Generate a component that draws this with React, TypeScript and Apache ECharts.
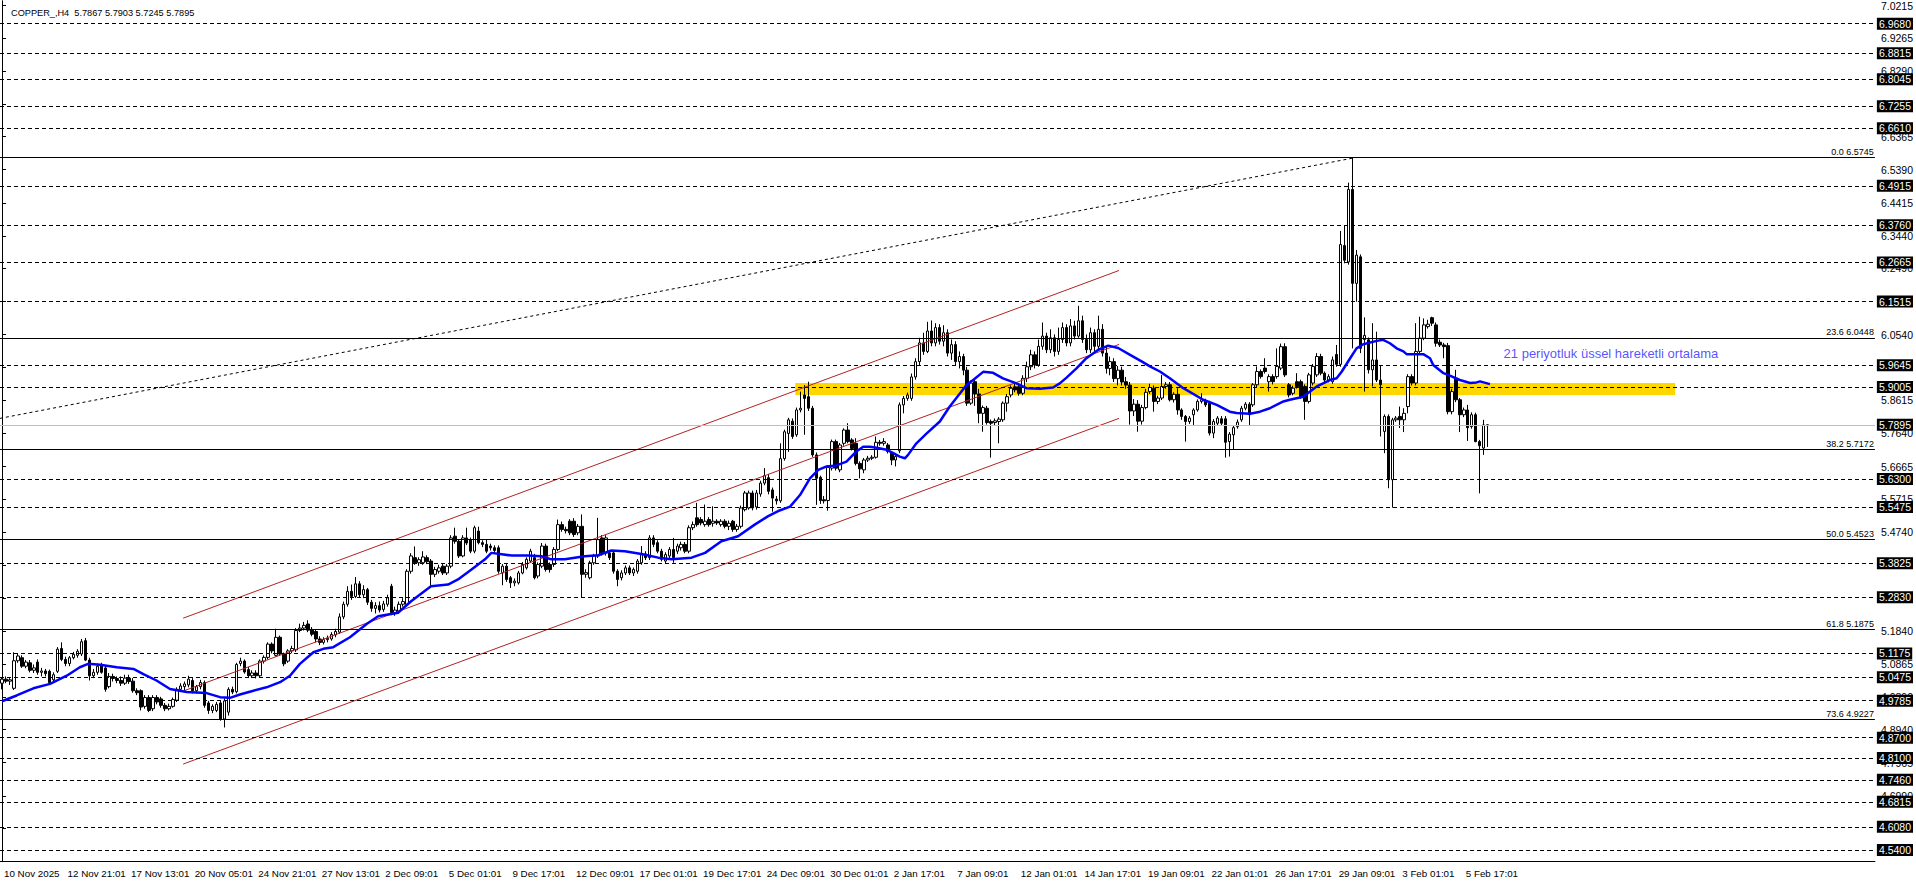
import React, { useEffect, useRef } from "react";
import * as echarts from "echarts";

const FONT = "Liberation Sans, Arial, sans-serif";
const TITLE = "COPPER_,H4\u00a0\u00a05.7867 5.7903 5.7245 5.7895";

const TIME_LABELS = [
  "10 Nov 2025", "12 Nov 21:01", "17 Nov 13:01", "20 Nov 05:01", "24 Nov 21:01", "27 Nov 13:01",
  "2 Dec 09:01", "5 Dec 01:01", "9 Dec 17:01", "12 Dec 09:01", "17 Dec 01:01", "19 Dec 17:01",
  "24 Dec 09:01", "30 Dec 01:01", "2 Jan 17:01", "7 Jan 09:01", "12 Jan 01:01", "14 Jan 17:01",
  "19 Jan 09:01", "22 Jan 01:01", "26 Jan 17:01", "29 Jan 09:01", "3 Feb 01:01", "5 Feb 17:01",
];
const BARS_PER_LABEL = 16;
const SLOT_COUNT = 472;

// H4 candles: [open, high, low, close]
const OHLC: number[][] = [
  [5.030,5.048,5.012,5.042],[5.042,5.050,5.030,5.036],[5.036,5.045,5.025,5.040],[5.015,5.121,5.010,5.096],
  [5.096,5.118,5.090,5.110],[5.105,5.112,5.075,5.080],[5.080,5.098,5.074,5.092],[5.090,5.098,5.062,5.068],
  [5.068,5.085,5.060,5.075],[5.092,5.100,5.055,5.062],[5.062,5.075,5.050,5.066],[5.066,5.072,5.050,5.058],
  [5.065,5.070,5.030,5.032],[5.040,5.062,5.035,5.055],[5.065,5.136,5.060,5.130],[5.132,5.150,5.095,5.100],
  [5.100,5.108,5.080,5.088],[5.088,5.110,5.080,5.105],[5.105,5.122,5.100,5.115],[5.112,5.130,5.105,5.124],
  [5.116,5.160,5.110,5.152],[5.155,5.163,5.095,5.098],[5.098,5.105,5.038,5.052],[5.052,5.072,5.045,5.062],
  [5.062,5.088,5.055,5.080],[5.082,5.090,5.058,5.062],[5.075,5.082,5.005,5.012],[5.020,5.060,5.015,5.050],
  [5.050,5.058,5.035,5.044],[5.044,5.050,5.030,5.038],[5.038,5.050,5.022,5.030],[5.030,5.055,5.025,5.045],
  [5.045,5.055,5.028,5.035],[5.036,5.045,5.002,5.008],[5.008,5.015,4.995,5.002],[5.008,5.012,4.950,4.960],
  [4.962,4.995,4.955,4.988],[4.988,4.995,4.945,4.950],[4.955,4.995,4.948,4.988],[4.988,4.995,4.968,4.975],
  [4.984,4.990,4.958,4.965],[4.965,4.972,4.948,4.955],[4.955,4.970,4.950,4.962],[4.962,4.988,4.958,4.982],
  [4.980,5.018,4.975,5.012],[5.012,5.030,5.005,5.022],[5.020,5.035,5.010,5.028],[5.025,5.052,5.018,5.042],
  [5.038,5.045,5.000,5.008],[5.008,5.025,5.000,5.020],[5.020,5.040,5.012,5.032],[5.032,5.038,4.958,4.965],
  [4.972,4.978,4.940,4.950],[4.950,4.968,4.942,4.962],[4.950,4.975,4.945,4.968],[4.972,4.980,4.920,4.925],
  [4.925,4.985,4.900,4.978],[4.945,5.018,4.935,5.012],[5.012,5.020,4.998,5.004],[5.005,5.090,5.000,5.085],
  [5.088,5.105,5.080,5.095],[5.095,5.100,5.058,5.063],[5.070,5.078,5.045,5.052],[5.052,5.068,5.045,5.060],
  [5.060,5.068,5.044,5.052],[5.052,5.100,5.048,5.095],[5.095,5.112,5.088,5.106],[5.106,5.150,5.100,5.145],
  [5.145,5.150,5.118,5.125],[5.112,5.190,5.108,5.165],[5.165,5.170,5.110,5.116],[5.116,5.120,5.080,5.087],
  [5.095,5.130,5.090,5.125],[5.125,5.140,5.118,5.132],[5.128,5.192,5.122,5.185],[5.185,5.205,5.180,5.192],
  [5.192,5.210,5.185,5.200],[5.204,5.215,5.180,5.186],[5.188,5.195,5.168,5.174],[5.182,5.188,5.150,5.160],
  [5.160,5.168,5.142,5.150],[5.150,5.165,5.144,5.158],[5.158,5.170,5.150,5.162],[5.160,5.180,5.155,5.173],
  [5.172,5.190,5.165,5.182],[5.180,5.235,5.175,5.225],[5.225,5.270,5.218,5.262],[5.262,5.315,5.255,5.300],
  [5.300,5.320,5.275,5.285],[5.285,5.342,5.280,5.322],[5.322,5.330,5.282,5.290],[5.290,5.318,5.280,5.305],
  [5.305,5.310,5.260,5.268],[5.268,5.275,5.240,5.250],[5.250,5.268,5.235,5.258],[5.258,5.270,5.238,5.245],
  [5.247,5.272,5.240,5.263],[5.262,5.290,5.255,5.281],[5.315,5.322,5.230,5.237],[5.238,5.255,5.228,5.245],
  [5.242,5.270,5.235,5.262],[5.262,5.280,5.255,5.270],[5.262,5.365,5.258,5.359],[5.359,5.412,5.352,5.404],
  [5.399,5.432,5.378,5.384],[5.384,5.400,5.375,5.393],[5.384,5.418,5.378,5.401],[5.399,5.406,5.380,5.387],
  [5.389,5.395,5.315,5.350],[5.350,5.372,5.342,5.364],[5.359,5.378,5.352,5.369],[5.374,5.380,5.348,5.354],
  [5.354,5.380,5.348,5.374],[5.374,5.465,5.368,5.457],[5.462,5.487,5.440,5.447],[5.447,5.452,5.398,5.404],
  [5.404,5.465,5.400,5.457],[5.457,5.487,5.436,5.442],[5.452,5.458,5.412,5.418],[5.418,5.493,5.412,5.487],
  [5.477,5.490,5.438,5.443],[5.443,5.450,5.430,5.438],[5.438,5.452,5.412,5.418],[5.433,5.440,5.420,5.428],
  [5.428,5.435,5.412,5.420],[5.428,5.435,5.352,5.359],[5.354,5.380,5.318,5.374],[5.374,5.380,5.328,5.335],
  [5.340,5.345,5.310,5.325],[5.325,5.338,5.315,5.330],[5.325,5.360,5.320,5.354],[5.354,5.386,5.350,5.379],
  [5.369,5.400,5.364,5.394],[5.389,5.425,5.384,5.418],[5.399,5.410,5.335,5.340],[5.345,5.385,5.338,5.379],
  [5.374,5.442,5.368,5.433],[5.433,5.440,5.358,5.364],[5.379,5.385,5.355,5.364],[5.379,5.430,5.372,5.423],
  [5.423,5.511,5.418,5.496],[5.496,5.505,5.475,5.482],[5.482,5.490,5.470,5.478],[5.506,5.512,5.465,5.472],
  [5.506,5.515,5.460,5.467],[5.472,5.498,5.465,5.491],[5.491,5.526,5.281,5.350],[5.350,5.365,5.340,5.355],
  [5.340,5.390,5.335,5.384],[5.384,5.410,5.378,5.404],[5.404,5.516,5.398,5.452],[5.457,5.465,5.405,5.413],
  [5.413,5.465,5.405,5.457],[5.413,5.420,5.392,5.399],[5.413,5.420,5.352,5.359],[5.359,5.365,5.315,5.335],
  [5.340,5.362,5.332,5.354],[5.354,5.376,5.348,5.369],[5.369,5.376,5.348,5.354],[5.354,5.370,5.345,5.364],
  [5.359,5.395,5.352,5.389],[5.384,5.433,5.378,5.408],[5.410,5.418,5.392,5.399],[5.399,5.465,5.392,5.457],
  [5.457,5.465,5.430,5.438],[5.443,5.450,5.412,5.418],[5.418,5.425,5.388,5.394],[5.389,5.415,5.382,5.408],
  [5.404,5.430,5.398,5.423],[5.423,5.457,5.384,5.399],[5.418,5.440,5.410,5.433],[5.428,5.446,5.420,5.438],
  [5.438,5.445,5.412,5.418],[5.418,5.494,5.412,5.487],[5.487,5.505,5.480,5.496],[5.516,5.560,5.490,5.496],
  [5.511,5.518,5.494,5.501],[5.496,5.555,5.490,5.506],[5.511,5.518,5.490,5.496],[5.500,5.550,5.490,5.506],
  [5.506,5.512,5.495,5.501],[5.496,5.512,5.490,5.506],[5.506,5.512,5.485,5.491],[5.491,5.508,5.480,5.500],
  [5.506,5.510,5.475,5.482],[5.482,5.498,5.475,5.491],[5.491,5.552,5.485,5.545],[5.540,5.595,5.535,5.589],
  [5.545,5.596,5.540,5.589],[5.589,5.596,5.538,5.545],[5.548,5.598,5.540,5.589],[5.586,5.625,5.578,5.618],
  [5.618,5.662,5.612,5.640],[5.634,5.645,5.585,5.594],[5.598,5.605,5.534,5.574],[5.571,5.580,5.555,5.566],
  [5.566,5.735,5.560,5.690],[5.690,5.775,5.684,5.769],[5.764,5.810,5.710,5.804],[5.800,5.808,5.748,5.755],
  [5.760,5.840,5.754,5.833],[5.833,5.887,5.826,5.838],[5.877,5.906,5.760,5.867],[5.872,5.916,5.830,5.838],
  [5.838,5.845,5.695,5.701],[5.701,5.708,5.554,5.632],[5.635,5.640,5.557,5.567],[5.569,5.580,5.558,5.566],
  [5.567,5.670,5.537,5.664],[5.662,5.746,5.655,5.740],[5.740,5.746,5.655,5.662],[5.657,5.736,5.650,5.730],
  [5.735,5.779,5.728,5.774],[5.774,5.794,5.735,5.740],[5.745,5.750,5.714,5.720],[5.735,5.750,5.670,5.676],
  [5.676,5.682,5.632,5.660],[5.657,5.692,5.647,5.686],[5.686,5.698,5.680,5.691],[5.691,5.700,5.686,5.694],
  [5.694,5.755,5.690,5.738],[5.738,5.745,5.728,5.735],[5.735,5.750,5.728,5.740],[5.730,5.736,5.705,5.711],
  [5.706,5.712,5.671,5.686],[5.686,5.702,5.667,5.696],[5.713,5.855,5.706,5.848],[5.848,5.874,5.823,5.867],
  [5.867,5.884,5.860,5.877],[5.867,5.940,5.860,5.930],[5.930,5.985,5.922,5.975],[5.975,6.045,5.965,6.030],
  [6.030,6.060,5.995,6.005],[6.005,6.092,6.000,6.065],[6.065,6.096,6.020,6.030],[6.030,6.088,6.020,6.075],
  [6.075,6.085,6.025,6.035],[6.035,6.082,6.020,6.060],[6.060,6.070,5.990,6.000],[6.000,6.040,5.980,6.025],
  [6.025,6.035,5.965,5.975],[5.975,6.005,5.955,5.990],[5.990,5.998,5.935,5.950],[5.950,5.960,5.845,5.853],
  [5.853,5.920,5.848,5.912],[5.916,5.925,5.845,5.880],[5.880,5.895,5.794,5.823],[5.823,5.846,5.769,5.840],
  [5.838,5.845,5.790,5.796],[5.799,5.805,5.693,5.794],[5.796,5.808,5.788,5.801],[5.799,5.812,5.735,5.806],
  [5.804,5.858,5.798,5.853],[5.853,5.880,5.828,5.872],[5.877,5.905,5.870,5.897],[5.901,5.910,5.885,5.892],
  [5.901,5.908,5.875,5.882],[5.882,5.935,5.876,5.926],[5.926,5.975,5.915,5.960],[5.960,6.010,5.950,5.995],
  [5.995,6.005,5.955,5.965],[5.965,6.040,5.960,6.020],[6.020,6.090,6.010,6.050],[6.050,6.060,6.000,6.010],
  [6.010,6.070,6.000,6.045],[6.045,6.055,5.990,6.005],[6.005,6.075,5.995,6.040],[6.040,6.090,6.030,6.075],
  [6.075,6.085,6.020,6.030],[6.030,6.100,6.020,6.080],[6.080,6.095,6.040,6.050],[6.050,6.139,6.045,6.095],
  [6.095,6.110,6.030,6.040],[6.040,6.055,6.000,6.010],[6.010,6.075,6.000,6.060],[6.060,6.070,6.005,6.020],
  [6.020,6.110,6.010,6.070],[6.070,6.085,5.990,6.000],[6.000,6.020,5.940,5.955],[5.955,5.990,5.935,5.975],
  [5.975,5.985,5.915,5.925],[5.925,5.962,5.905,5.950],[5.950,5.960,5.905,5.915],[5.916,5.930,5.895,5.906],
  [5.906,5.915,5.790,5.830],[5.830,5.865,5.815,5.850],[5.850,5.862,5.769,5.800],[5.800,5.848,5.790,5.840],
  [5.840,5.895,5.835,5.885],[5.887,5.910,5.880,5.899],[5.897,5.905,5.828,5.858],[5.858,5.875,5.850,5.868],
  [5.868,5.936,5.862,5.902],[5.902,5.915,5.895,5.907],[5.907,5.915,5.858,5.863],[5.863,5.885,5.855,5.879],
  [5.879,5.897,5.819,5.833],[5.833,5.838,5.804,5.814],[5.814,5.818,5.740,5.799],[5.799,5.815,5.792,5.809],
  [5.819,5.838,5.789,5.833],[5.833,5.864,5.828,5.858],[5.858,5.882,5.852,5.863],[5.858,5.866,5.842,5.848],
  [5.853,5.860,5.758,5.765],[5.765,5.806,5.750,5.799],[5.794,5.815,5.788,5.809],[5.807,5.815,5.788,5.794],
  [5.807,5.815,5.693,5.738],[5.740,5.768,5.696,5.762],[5.760,5.788,5.716,5.781],[5.784,5.805,5.778,5.797],
  [5.804,5.845,5.798,5.838],[5.838,5.856,5.832,5.850],[5.850,5.856,5.789,5.819],[5.848,5.912,5.842,5.907],
  [5.907,5.961,5.900,5.946],[5.946,5.952,5.925,5.931],[5.956,5.985,5.940,5.946],[5.916,5.938,5.887,5.931],
  [5.931,5.938,5.908,5.916],[5.931,6.014,5.925,5.961],[5.956,6.028,5.950,6.019],[6.019,6.029,5.930,5.936],
  [5.907,5.912,5.870,5.877],[5.882,5.904,5.876,5.897],[5.916,5.941,5.896,5.902],[5.916,5.922,5.866,5.872],
  [5.902,5.908,5.804,5.858],[5.858,5.942,5.852,5.936],[5.912,5.968,5.905,5.961],[5.936,6.000,5.930,5.990],
  [5.990,5.998,5.935,5.941],[5.941,5.946,5.914,5.921],[5.921,5.938,5.914,5.931],[5.916,5.990,5.910,5.980],
  [5.996,6.024,5.960,5.967],[5.967,6.359,5.960,6.319],[6.316,6.376,6.264,6.273],[6.268,6.501,6.260,6.481],
  [6.481,6.5745,6.014,6.205],[6.205,6.303,6.151,6.288],[6.283,6.290,6.000,6.014],[6.040,6.105,5.887,6.052],
  [6.039,6.046,5.940,5.951],[5.951,6.088,5.902,5.980],[5.980,6.063,5.915,5.921],[5.921,5.965,5.755,5.907],
  [5.770,5.820,5.706,5.814],[5.814,5.820,5.603,5.628],[5.628,5.810,5.546,5.804],[5.804,5.815,5.798,5.809],
  [5.814,5.843,5.780,5.804],[5.804,5.838,5.768,5.823],[5.843,5.938,5.823,5.931],[5.931,5.938,5.905,5.912],
  [5.912,6.088,5.905,6.005],[6.005,6.107,6.000,6.044],[6.044,6.102,6.038,6.083],[6.078,6.098,6.072,6.085],
  [6.104,6.107,6.080,6.088],[6.083,6.090,6.019,6.029],[6.032,6.040,6.018,6.024],[6.024,6.030,5.985,6.019],
  [6.022,6.030,5.820,5.828],[5.828,5.895,5.820,5.887],[5.926,5.951,5.856,5.863],[5.863,5.868,5.768,5.819],
  [5.819,5.840,5.812,5.833],[5.833,5.848,5.742,5.781],[5.784,5.826,5.778,5.819],[5.819,5.825,5.738,5.740],
  [5.740,5.745,5.588,5.728],[5.721,5.804,5.701,5.789],[5.7867,5.7903,5.7245,5.7895],
];

// 21-period EMA: [bar position, price]
const EMA21: number[][] = [
  [0,4.977],[3.7,4.994],[7.9,5.015],[12.1,5.028],[16.3,5.052],[19.6,5.077],[21.7,5.087],[24.7,5.084],
  [28.9,5.077],[33.1,5.072],[35.6,5.057],[38.9,5.038],[42.3,5.013],[46.5,5.004],[51.5,5.001],[54.9,4.989],
  [57.4,4.987],[59.9,4.997],[63.3,5.008],[66.6,5.018],[70,5.033],[72.5,5.052],[75,5.087],[78.4,5.121],
  [80.9,5.131],[83.4,5.136],[87.6,5.165],[91.8,5.204],[94.7,5.227],[99.7,5.237],[103,5.271],[108,5.315],
  [112.3,5.32],[114.8,5.335],[118.2,5.364],[121.6,5.394],[123.2,5.413],[125.8,5.409],[128.3,5.405],
  [132.5,5.405],[135.8,5.403],[138.3,5.394],[141.7,5.394],[146.7,5.403],[150.1,5.406],[153.4,5.42],
  [156.8,5.418],[161,5.41],[165.2,5.399],[168.6,5.394],[173.6,5.399],[177,5.413],[181.1,5.447],
  [185.3,5.462],[189.5,5.496],[192.9,5.521],[195.4,5.536],[198.4,5.549],[200.9,5.583],[203.4,5.632],
  [205.5,5.657],[207.6,5.667],[210.1,5.670],[212.6,5.681],[215.1,5.711],[216.8,5.725],[218.5,5.725],
  [220.2,5.722],[222.7,5.716],[224.4,5.706],[226,5.696],[227.3,5.691],[228.1,5.701],[230.2,5.735],
  [232.8,5.764],[236.1,5.799],[238.6,5.843],[241.2,5.882],[242.8,5.906],[244.5,5.921],[247,5.945],
  [249.5,5.942],[252,5.926],[255.4,5.911],[257.9,5.897],[261.3,5.895],[264.6,5.899],[266.3,5.911],
  [268,5.928],[270.5,5.955],[273,5.985],[276,6.010],[278.5,6.022],[281,6.015],[284,5.995],[287,5.975],
  [289,5.961],[291.5,5.946],[294,5.926],[297.4,5.897],[302.4,5.863],[305.8,5.848],[309.1,5.828],
  [310.8,5.824],[314.2,5.822],[316.7,5.828],[319.2,5.838],[322.6,5.858],[324.2,5.863],[327.6,5.872],
  [329.3,5.887],[331,5.902],[334.3,5.921],[336,5.926],[337.3,5.946],[339.4,5.985],[341,6.014],
  [342.7,6.026],[346.1,6.036],[347.7,6.039],[349.4,6.029],[351.1,6.014],[352.8,6.005],[353.6,5.997],
  [357.8,5.997],[359.5,5.985],[360.3,5.965],[362.9,5.941],[364.5,5.934],[367,5.921],[369.6,5.912],
  [371.2,5.914],[372.1,5.917],[374.6,5.909],
];

const AXIS_TICKS = [
  7.0215, 6.9265, 6.829, 6.7315, 6.6365, 6.539, 6.4415, 6.344, 6.249, 6.1515, 6.054, 5.959, 5.8615,
  5.764, 5.6665, 5.5715, 5.474, 5.3765, 5.279, 5.184, 5.0865, 4.989, 4.894, 4.7965, 4.699, 4.604, 4.5065,
];
const H_LEVELS = [
  6.968, 6.8815, 6.8045, 6.7255, 6.661, 6.4915, 6.376, 6.2665, 6.1515, 5.9645, 5.9005, 5.63, 5.5475,
  5.3825, 5.283, 5.1175, 5.0475, 4.9785, 4.87, 4.81, 4.746, 4.6815, 4.608, 4.54,
];
const CURRENT_PRICE = 5.7895;
const FIB_NAMES = ["0.0", "23.6", "38.2", "50.0", "61.8", "73.6"];
const FIB_VALUES = [6.5745, 6.0448, 5.7172, 5.4523, 5.1875, 4.9227];
const CHANNEL_UPPER = [[45.6, 5.2211], [281.2, 6.2428]];
const CHANNEL_MID = [[45.6, 5.0068], [281.2, 6.0255]];
const CHANNEL_LOW = [[45.6, 4.7924], [281.2, 5.8083]];
const TREND_LINE = [[-0.5, 5.8083], [340.7, 6.5745]];
const ZONE_X = [199.7, 421.2];
const ZONE_Y = [5.912, 5.877];
const NOTE_TEXT = "21 periyotluk üssel hareketli ortalama";
const NOTE_AT = [377.9, 5.999];
const Y_MIN = 4.5076;
const Y_MAX = 7.0355;

export default function App() {
  const ref = useRef<HTMLDivElement>(null);
  useEffect(() => {
    if (!ref.current) return;
    const chart = echarts.init(ref.current, undefined, { renderer: "svg" });
    const categories = Array.from({ length: SLOT_COUNT }, (_, k) =>
      k % BARS_PER_LABEL === 0 && k / BARS_PER_LABEL < TIME_LABELS.length ? TIME_LABELS[k / BARS_PER_LABEL] : ""
    );
    const showIdx = (k: number) => k % BARS_PER_LABEL === 0 && k / BARS_PER_LABEL < TIME_LABELS.length;
    const boxLabel = (v: number) => ({
      show: true,
      position: "end",
      distance: 2,
      color: "#fff",
      backgroundColor: "#000",
      padding: [1, 2, 0, 2],
      fontSize: 10.5,
      fontFamily: FONT,
      formatter: () => v.toFixed(4),
    });
    const lineData: any[] = [];
    H_LEVELS.forEach((v) =>
      lineData.push({ yAxis: v, lineStyle: { color: "#000", type: [4, 3], width: 1 }, label: boxLabel(v) })
    );
    lineData.push({
      yAxis: CURRENT_PRICE,
      lineStyle: { color: "#c0c0c0", type: "solid", width: 1 },
      label: boxLabel(CURRENT_PRICE),
    });
    FIB_VALUES.forEach((v, k) =>
      lineData.push({
        yAxis: v,
        lineStyle: { color: "#000", type: "solid", width: 1 },
        label: {
          show: true,
          position: "insideEndTop",
          distance: 1,
          color: "#000",
          fontSize: 9,
          fontFamily: FONT,
          formatter: () => `${FIB_NAMES[k]} ${v.toFixed(4)}`,
        },
      })
    );
    const plainLine = (data: number[][], color: string, type: any, width: number, z: number) => ({
      type: "line",
      xAxisIndex: 1,
      yAxisIndex: 0,
      data,
      symbol: "none",
      silent: true,
      z,
      lineStyle: { color, type, width },
    });
    chart.setOption({
      animation: false,
      title: {
        text: TITLE,
        left: 6,
        top: 3,
        textStyle: { fontSize: 9.2, fontWeight: "normal", color: "#000", fontFamily: FONT },
      },
      grid: { left: 0, right: 41, top: 0, bottom: 27, containLabel: false },
      xAxis: [
        {
          type: "category",
          data: categories,
          boundaryGap: true,
          axisLine: { lineStyle: { color: "#000", width: 1 } },
          axisTick: { alignWithLabel: true, interval: showIdx, length: 4, lineStyle: { color: "#000" } },
          axisLabel: {
            interval: showIdx,
            align: "left",
            padding: [0, 0, 0, 2],
            margin: 7,
            color: "#000",
            fontSize: 9.8,
            fontFamily: FONT,
          },
          splitLine: { show: false },
        },
        { type: "value", show: false, min: -0.5, max: SLOT_COUNT - 0.5 },
      ],
      yAxis: {
        type: "value",
        position: "right",
        min: Y_MIN,
        max: Y_MAX,
        axisLine: { show: true, lineStyle: { color: "#000", width: 1 } },
        axisTick: { show: true, customValues: AXIS_TICKS, length: 4, lineStyle: { color: "#000" } },
        axisLabel: {
          customValues: AXIS_TICKS,
          margin: 6,
          color: "#000",
          fontSize: 10.5,
          fontFamily: FONT,
          formatter: (v: number) => v.toFixed(4),
        },
        splitLine: { show: false },
      },
      series: [
        {
          type: "line",
          xAxisIndex: 1,
          data: [[ZONE_X[0], ZONE_Y[0]], [ZONE_X[1], ZONE_Y[0]]],
          symbol: "none",
          silent: true,
          z: 1,
          lineStyle: { opacity: 0 },
          markArea: {
            silent: true,
            itemStyle: { color: "#ffd700", opacity: 1 },
            data: [[{ xAxis: ZONE_X[0], yAxis: ZONE_Y[0] }, { xAxis: ZONE_X[1], yAxis: ZONE_Y[1] }]],
          },
        },
        {
          type: "candlestick",
          xAxisIndex: 0,
          yAxisIndex: 0,
          barWidth: 3,
          z: 3,
          data: OHLC.map((r) => [r[0], r[3], r[2], r[1]]),
          itemStyle: { color: "#fff", color0: "#000", borderColor: "#000", borderColor0: "#000", borderWidth: 1 },
          markLine: { silent: true, symbol: ["none", "none"], animation: false, precision: 4, data: lineData },
        },
        plainLine(CHANNEL_UPPER, "#b22222", "solid", 1, 4),
        plainLine(CHANNEL_MID, "#b22222", "solid", 1, 4),
        plainLine(CHANNEL_LOW, "#b22222", "solid", 1, 4),
        plainLine(TREND_LINE, "#000", [3, 3], 1, 4),
        plainLine(EMA21, "#0000ff", "solid", 2.5, 5),
        {
          type: "scatter",
          xAxisIndex: 1,
          data: [NOTE_AT],
          symbolSize: 1,
          itemStyle: { color: "rgba(0,0,0,0)" },
          silent: true,
          z: 6,
          label: {
            show: true,
            position: "right",
            distance: 0,
            formatter: NOTE_TEXT,
            color: "#2b1fff",
            fontSize: 13,
            fontFamily: FONT,
          },
        },
      ],
    });
    return () => chart.dispose();
  }, []);
  return <div ref={ref} style={{ position: "fixed", left: 0, top: 0, width: 1916, height: 888, background: "#fff" }} />;
}
